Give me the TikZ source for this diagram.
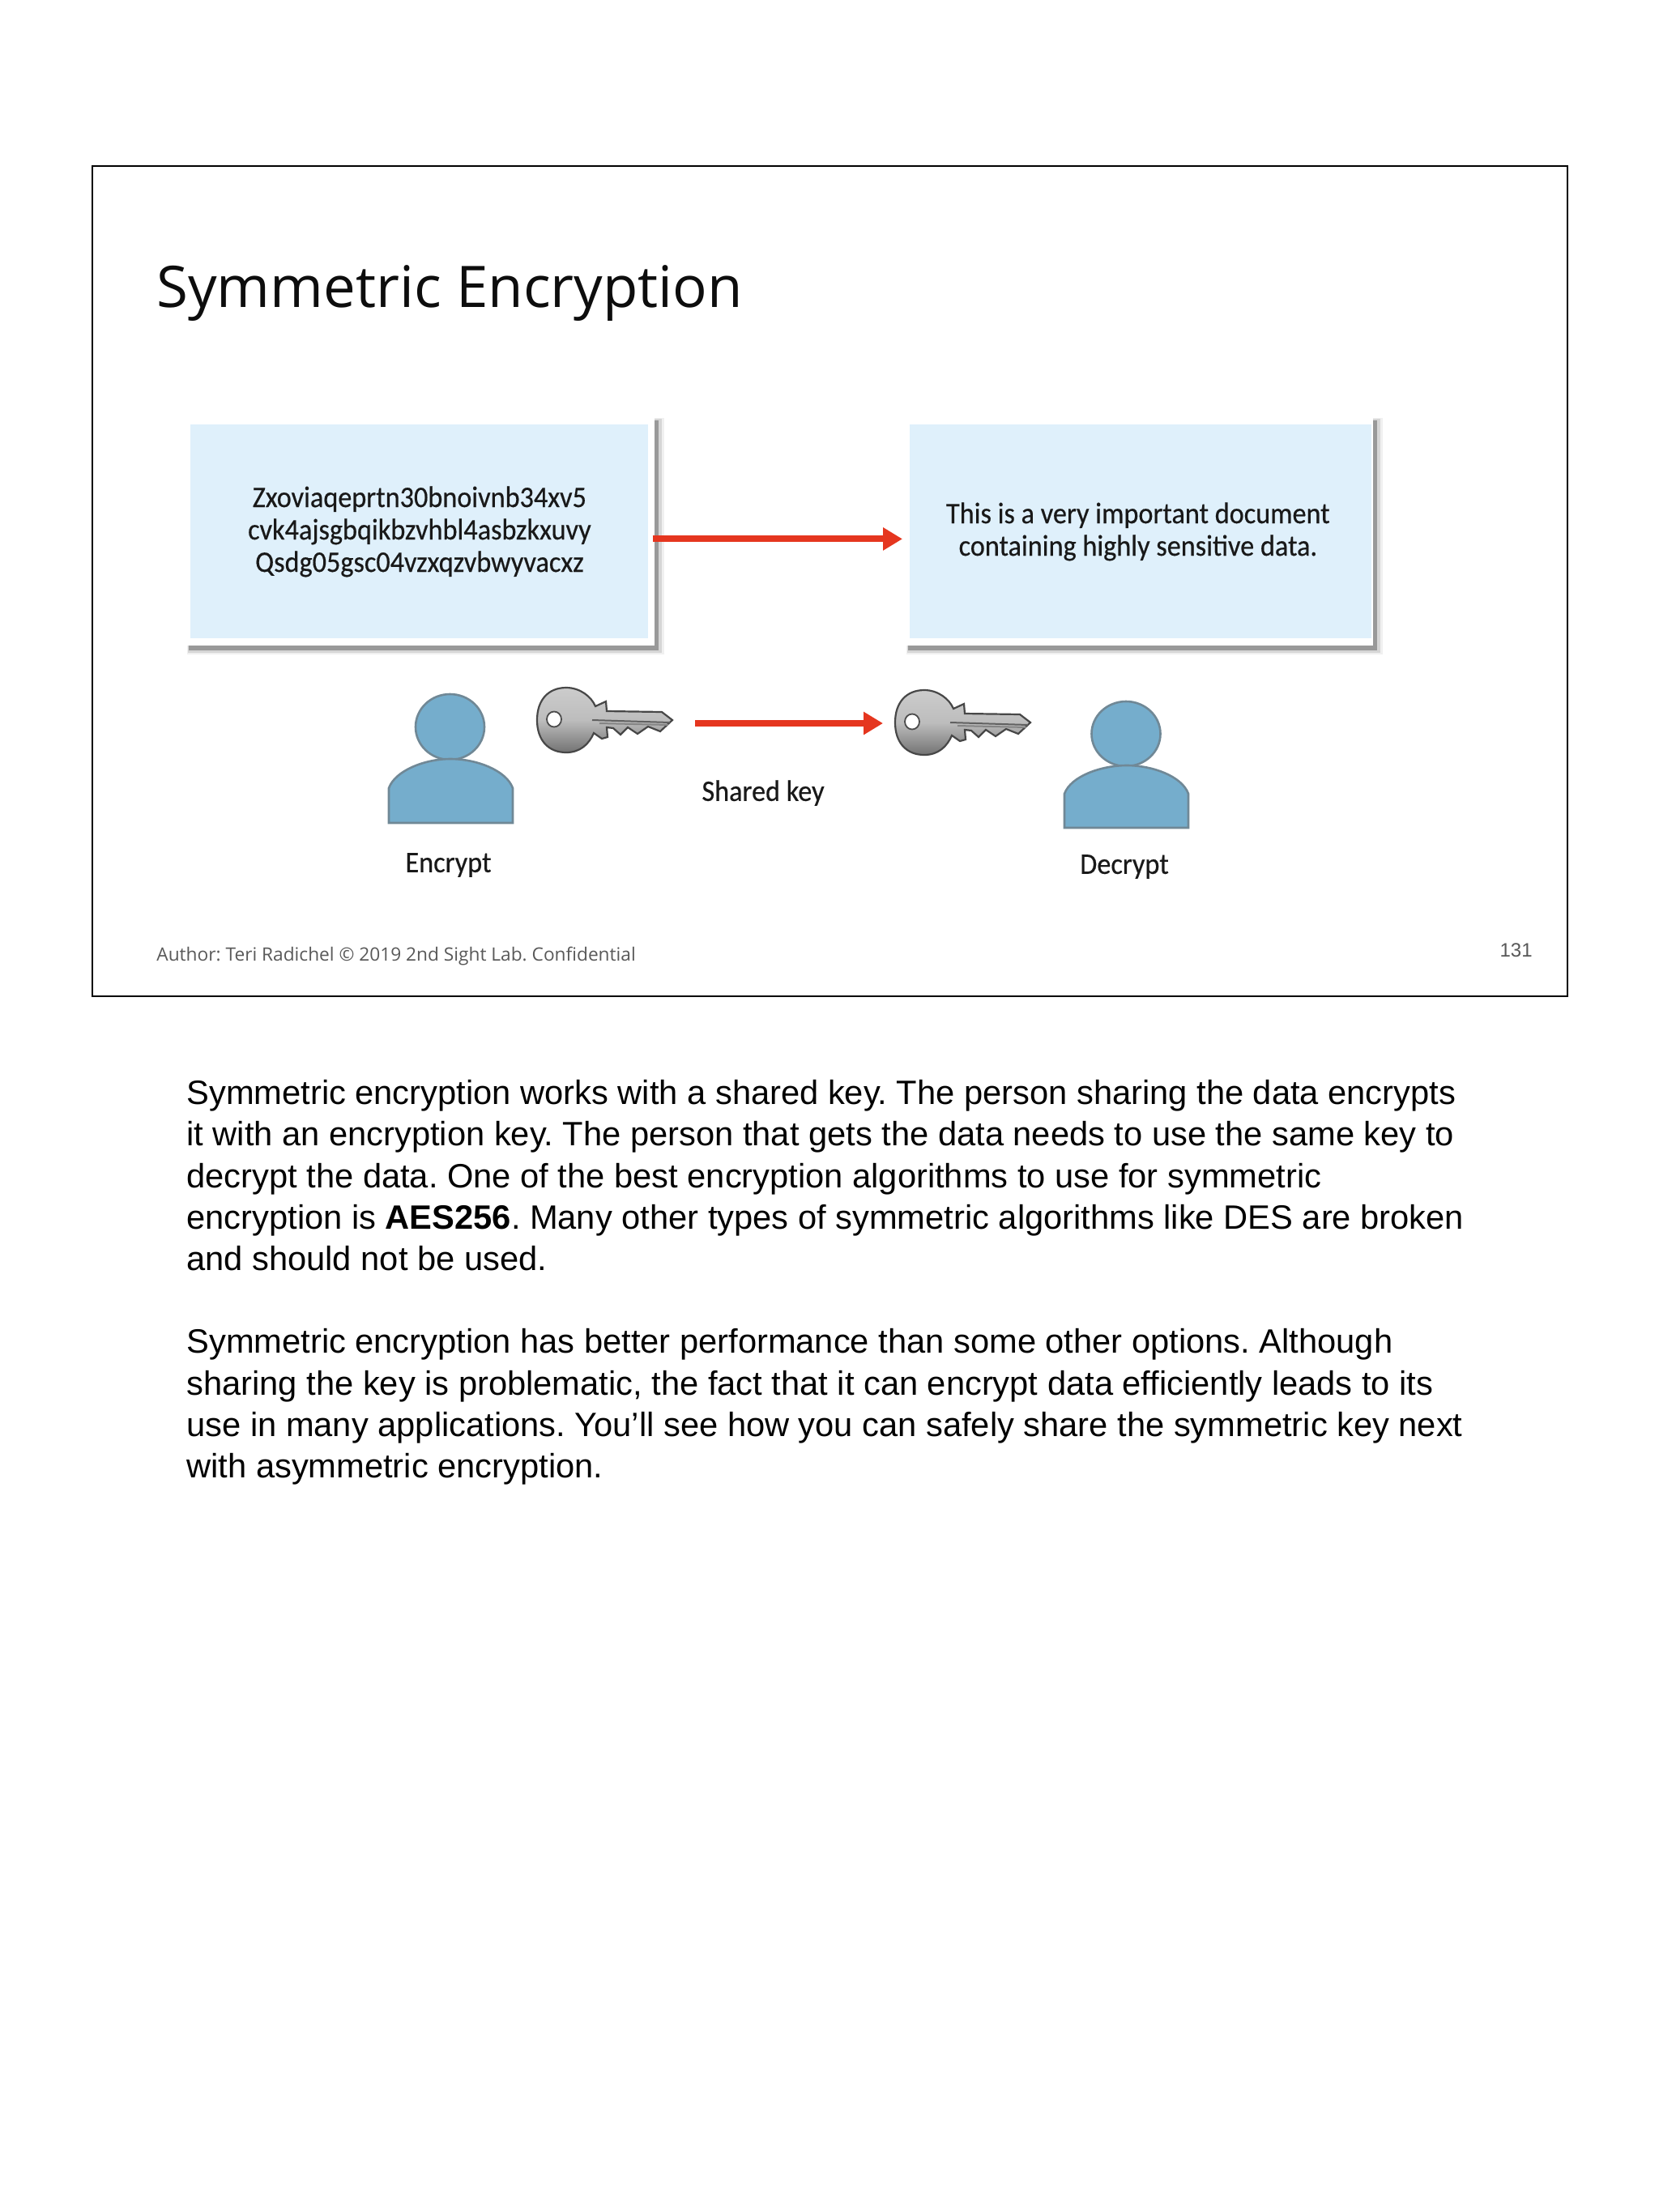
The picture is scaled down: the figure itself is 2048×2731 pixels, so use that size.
\documentclass[tikz,border=0pt]{standalone}
\usepackage{fontspec}
\setmainfont{Liberation Sans}
\newfontfamily\opensans{Open Sans}
\newfontfamily\carlito[FakeStretch=0.93,FakeBold=0.4]{Carlito}
\usetikzlibrary{arrows.meta,shapes.geometric,positioning}
\definecolor{boxblue}{HTML}{DFF0FB}
\definecolor{personfill}{HTML}{75ADCC}
\definecolor{personline}{HTML}{708896}
\definecolor{arrowred}{HTML}{E5361F}
\definecolor{footgray}{HTML}{595959}
\frenchspacing
\tikzset{
  x=0.5pt,y=-0.5pt,
  panel/.style={fill=boxblue,draw=none,inner sep=0pt,align=center,font=\carlito\fontsize{18.4}{20}\selectfont,text=black!90},
  redarrow/.style={arrowred,line width=4pt,-{Triangle[length=12pt,width=13.5pt]}},
  lbl/.style={inner sep=0pt,font=\carlito\fontsize{18.4}{20}\selectfont,text=black!90},
  headshape/.style={ellipse,fill=personfill,draw=personline,line width=1.3pt,inner sep=0pt},
  bodyshape/.style={fill=personfill,draw=personline,line width=1.3pt},
  keyicon/.pic={
    \path[draw=black!72,line width=1.1pt,top color=black!20,bottom color=black!55,middle color=black!26]
      (0,40) .. controls (0,15) and (14,0) .. (36,0)
      .. controls (53,0) and (67,11) .. (72,23) -- (85,17) -- (86,29)
      -- (154,30) -- (167,40) -- (152,54) -- (137,48) -- (124,57) -- (112,49)
      -- (103,58) -- (94,50) -- (86,49) -- (87,61) -- (80,63) -- (70,56)
      .. controls (64,70) and (53,80) .. (36,80)
      .. controls (14,80) and (0,65) .. (0,40) -- cycle;
    \path[fill=white,draw=black!70,line width=0.9pt] (21,39) ellipse [x radius=9,y radius=9.5];
    \path[draw=black!62,line width=1pt] (68,40) -- (164,43);
    \path[draw=black!48,line width=1pt] (77,44) -- (162,46);
  }
}
\begin{document}
\begin{tikzpicture}
\useasboundingbox (0,0) rectangle (2048,2731);
\fill[white] (0,0) rectangle (2048,2731);
% slide frame
\node[draw=black,line width=1.1pt,fill=white,minimum width=910.5pt,minimum height=512.5pt,inner sep=0pt,anchor=north west] (slide) at (112.5,203.5) {};
% title
\node[anchor=base west,inner sep=0pt,font=\opensans\fontsize{35.4}{40}\selectfont,text=black!95] (title) at (193,379) {Symmetric Encryption};
% left panel shadow
\fill[black!6] (231,516) rectangle (820,808);
\fill[black!16] (232,517) rectangle (817,806);
\fill[black!40] (233,519) rectangle (813,803);
\fill[white] (231,516) rectangle (808,797);
\node[panel,minimum width=282.5pt,minimum height=132pt,anchor=north west] (cipher) at (235,524) {Zxoviaqeprtn30bnoivnb34xv5\\[0pt]cvk4ajsgbqikbzvhbl4asbzkxuvy\\[0pt]Qsdg05gsc04vzxqzvbwyvacxz};
% right panel shadow
\fill[black!6] (1119,516) rectangle (1707,808);
\fill[black!16] (1120,517) rectangle (1704,806);
\fill[black!40] (1121,519) rectangle (1700,803);
\fill[white] (1119,516) rectangle (1695,797);
\node[panel,minimum width=285pt,minimum height=132pt,anchor=north west] (plain) at (1123,524) {This is a very important document\hspace*{3.5pt}\\[0pt]containing highly sensitive data.\hspace*{3.5pt}};
\draw[redarrow,shorten <=2.5pt,shorten >=4.5pt] ([yshift=-4.5pt]cipher.east) -- ([yshift=-4.5pt]plain.west);
% people
\node[headshape,minimum width=42.5pt,minimum height=40.5pt] (head1) at (555.5,897.5) {};
\draw[bodyshape] (480,1016) -- (480,973) .. controls (488,951) and (525,937) .. (556,937) .. controls (588,937) and (625,951) .. (633,973) -- (633,1016) -- cycle;
\node[headshape,minimum width=42.5pt,minimum height=40pt] (head2) at (1390,906) {};
\draw[bodyshape] (1314,1022) -- (1314,980) .. controls (1322,958) and (1360,945) .. (1391,945) .. controls (1422,945) and (1459,958) .. (1467,980) -- (1467,1022) -- cycle;
% keys
\pic at (663,849) {keyicon};
\pic at (1105,852) {keyicon};
\coordinate (keyA) at (858,893);
\coordinate (keyB) at (1090,893);
\draw[redarrow] (keyA) -- (keyB);
% labels
\node[lbl] (shared) at (942,979) {Shared key};
\node[lbl] (enc) at (553.5,1068) {Encrypt};
\node[lbl] (dec) at (1388,1070) {Decrypt};
% footer
\node[anchor=base west,inner sep=0pt,font=\opensans\fontsize{11.35}{14}\selectfont,text=footgray] (foot) at (193,1186) {Author: Teri Radichel © 2019 2nd Sight Lab. Confidential};
\node[anchor=base east,inner sep=0pt,font=\fontsize{12}{14}\selectfont,text=footgray] (num) at (1892,1181) {131};
% notes
\node[anchor=north west,inner sep=0pt,align=left,font=\fontsize{20.83}{25.6}\selectfont] (notes) at (230,1333) {Symmetric encryption works with a shared key. The person sharing the data encrypts\\
it with an encryption key. The person that gets the data needs to use the same key to\\
decrypt the data. One of the best encryption algorithms to use for symmetric\\
encryption is \textbf{AES256}. Many other types of symmetric algorithms like DES are broken\\
and should not be used.\\
\mbox{}\\
Symmetric encryption has better performance than some other options. Although\\
sharing the key is problematic, the fact that it can encrypt data efficiently leads to its\\
use in many applications. You’ll see how you can safely share the symmetric key next\\
with asymmetric encryption.};
\end{tikzpicture}
\end{document}
